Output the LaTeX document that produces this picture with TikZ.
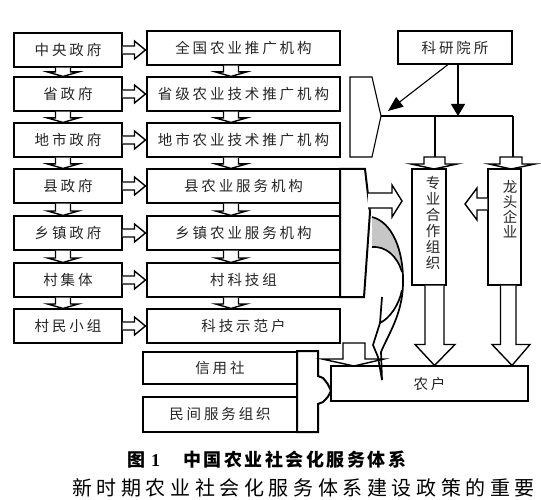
\documentclass[tikz,border=0pt]{standalone}
\usepackage{fontspec}
\setmainfont{Liberation Serif}
\newfontfamily\cjk[LetterSpace=20]{Noto Sans CJK SC}
\newfontfamily\cjkv{Noto Sans CJK SC}
\newfontfamily\capfont[LetterSpace=14]{Noto Sans CJK SC}
\newfontfamily\bodyfont[LetterSpace=23]{Noto Sans CJK SC}
\usetikzlibrary{arrows.meta,calc}

\newcommand\vconn[3]{\draw[conn] let \p1=($(#1.south)+(#3,0)$), \p2=(#2.north) in
 (\x1-7.5pt,\y1) -- (\x1-7.5pt,\y2+4.5pt) -- (\x1-15.5pt,\y2+4.5pt) -- (\x1,\y2) -- (\x1+15.5pt,\y2+4.5pt) -- (\x1+7.5pt,\y2+4.5pt) -- (\x1+7.5pt,\y1);}
\newcommand\hconn[2]{\draw[conn] let \p1=(#1.east), \p2=(#2.west) in
 (\x1,\y1+4pt) -- (\x2-12pt,\y1+4pt) -- (\x2-12pt,\y1+9pt) -- (\x2-1pt,\y1) -- (\x2-12pt,\y1-9pt) -- (\x2-12pt,\y1-4pt) -- (\x1,\y1-4pt);}

\begin{document}
\begin{tikzpicture}[x=1pt,y=-1pt,
  box/.style={draw, line width=1.1pt, inner sep=0pt, text=black!85,
     font=\cjk\fontsize{14.5}{16}\selectfont},
  lbox/.style={box, minimum width=108pt, minimum height=34pt},
  mbox/.style={box, minimum width=193pt, minimum height=34pt},
  vtext/.style={inner sep=0pt, align=center, text=black!85},
  conn/.style={draw, line width=1.4pt, fill=white, line join=miter},
  thickshape/.style={draw, line width=2pt, fill=white, line join=miter},
  thinline/.style={draw, line width=1.1pt},
  curve/.style={draw, line width=1.7pt}]
\useasboundingbox[fill=white] (0,0) rectangle (541,500);

% left column
\node[lbox] (g1) at (68,50)  {中央政府};
\node[lbox] (g2) at (68,94)  {省政府};
\node[lbox] (g3) at (68,140) {地市政府};
\node[lbox] (g4) at (68,186) {县政府};
\node[lbox] (g5) at (68,233) {乡镇政府};
\node[lbox] (g6) at (68,280) {村集体\hspace{32pt}};
\node[lbox] (g7) at (68,326) {村民小组};

% middle column
\node[mbox] (m1) at (243.5,48)  {全国农业推广机构};
\node[mbox] (m2) at (243.5,94)  {省级农业技术推广机构};
\node[mbox] (m3) at (243.5,140) {地市农业技术推广机构};
\node[mbox] (m4) at (243.5,186) {县农业服务机构};
\node[mbox] (m5) at (243.5,233) {乡镇农业服务机构};
\node[mbox] (m6) at (243.5,280) {村科技组};
\node[mbox] (m7) at (243.5,326) {科技示范户};

% vertical connectors
\vconn{g1}{g2}{-5}\vconn{g2}{g3}{-5}\vconn{g3}{g4}{-5}
\vconn{g4}{g5}{-5}\vconn{g5}{g6}{-5}\vconn{g6}{g7}{-5}
\vconn{m1}{m2}{-12.5}\vconn{m2}{m3}{-12.5}\vconn{m3}{m4}{-12.5}
\vconn{m4}{m5}{-12.5}\vconn{m5}{m6}{-12.5}\vconn{m6}{m7}{-12.5}

% horizontal connectors
\hconn{g1}{m1}\hconn{g2}{m2}\hconn{g3}{m3}\hconn{g4}{m4}
\hconn{g5}{m5}\hconn{g6}{m6}\hconn{g7}{m7}

% big bracket box (county to village)
\draw[thickshape] (340,169) -- (365,169) -- (370,212) -- (364,297) -- (340,297) -- cycle;
\coordinate (bbr) at (368,200.5);

% top bracket pentagon
\draw[thinline, fill=white] (350,77) -- (372,77) -- (381,116) -- (372,157) -- (350,157) -- cycle;
\coordinate (pt) at (381,116);

% research institutes
\node[box, minimum width=114pt, minimum height=33pt] (ky) at (455,47.5) {科研院所};
\draw[thinline, -{Triangle[length=15pt,width=12pt]}] ($(ky.south)+(-7,0)$) -- (388,111);
\coordinate (j1) at (435,116);
\coordinate (j2) at (458,116);
\coordinate (j3) at (513,116);
\draw[thinline] (pt) -- (j3);
\draw[thinline, -{Triangle[length=12pt,width=14pt]}] ($(ky.south)+(3,0)$) -- (j2);

% vertical boxes
\node[draw, line width=1.1pt, minimum width=34pt, minimum height=116pt] (zy) at (429,227) {};
\node[draw, line width=1.1pt, minimum width=33pt, minimum height=116pt] (lt) at (504.5,227) {};
\node[vtext, font=\cjkv\fontsize{14.5}{16}\selectfont] (zyt) at (433,223) {专\\业\\合\\作\\组\\织};
\node[vtext, font=\cjkv\fontsize{14.5}{15}\selectfont] (ltt) at (510,209) {龙\\头\\企\\业};

% connectors above vertical boxes
\draw[thinline] (j1) -- (435,157);
\draw[thinline] (j3) -- (513,157);
\draw[conn] (424,157) -- (424,164) -- (411,164) -- (434,169) -- (457,164) -- (445,164) -- (445,157) -- cycle;
\draw[conn] (500,157) -- (500,164) -- (489,164) -- (511,169) -- (535,164) -- (522,164) -- (522,157) -- cycle;

% farmers
\node[box, minimum width=197pt, minimum height=35pt] (nh) at (429.5,383.5) {农户\hspace{22pt}};

% arrows down to farmers
\draw[conn] let \p1=(zy.south), \p2=(nh.north) in
  (\x1-4pt,\y1) -- (\x1-4pt,\y2+21pt) -- (\x1-14pt,\y2+21pt) -- (\x1+5.5pt,\y2) -- (\x1+26pt,\y2+21pt) -- (\x1+15pt,\y2+21pt) -- (\x1+15pt,\y1);
\draw[conn] let \p1=(lt.south), \p2=(nh.north) in
  (\x1-4pt,\y1) -- (\x1-4pt,\y2+21pt) -- (\x1-12.5pt,\y2+21pt) -- (\x1+7.5pt,\y2) -- (\x1+25.5pt,\y2+21pt) -- (\x1+11.5pt,\y2+21pt) -- (\x1+11.5pt,\y1);

% arrow from leading enterprises to cooperatives
\draw[conn] let \p1=(lt.west) in
  (\x1,198) -- (477,198) -- (477,188) -- (465,204) -- (477,220) -- (477,210) -- (\x1,210);
% arrow from big bracket to cooperatives
\draw[conn] (bbr) ++(0,-7.5) -- (392,193) -- (392,185) -- (402,201) -- (392,217) -- (392,208) -- (368,208);

% credit coop and private services
\node[box, minimum width=154pt, minimum height=32pt] (xy) at (220,368) {信用社};
\node[box, minimum width=154pt, minimum height=35pt] (mj) at (220,414.5) {民间服务组织};
\draw[thickshape] (297,351) -- (318,351) -- (318,376) -- (323,378) .. controls (328,384) .. (331,391)
   .. controls (328,397) .. (323,402) -- (318,404) -- (318,432) -- (297,432) -- cycle;

% connector from demonstration households to farmers
\draw[conn] (343,343) -- (343,359) -- (322,359) -- (354,366) -- (384,359) -- (365,359) -- (365,343) -- cycle;

% curved arrow
\fill[gray!45] (372,217) .. controls (392,222) and (401,248) .. (402,272)
   .. controls (397,256) and (386,246) .. (372,247) -- cycle;
\draw[curve] (372,217) .. controls (392,222) and (404,250) .. (403,285)
   .. controls (402,315) and (388,335) .. (381,352) -- (382,380);
\draw[curve] (372,247) .. controls (386,246) and (397,256) .. (402,272);
\draw[curve] (382,297) -- (380,323) .. controls (390,318) and (399,305) .. (402,290);
\draw[curve] (380,323) -- (373,345) -- (378,357) -- (382,380);

% caption
\node[anchor=west, inner sep=0pt, font=\capfont\bfseries\fontsize{18}{20}\selectfont] (cap) at (127,460)
  {图\hspace{6pt}{\rmfamily\bfseries 1}\hspace{23pt}中国农业社会化服务体系};

% body text line below the caption
\node[anchor=north west, inner sep=0pt, font=\bodyfont\fontsize{20}{22}\selectfont] (body) at (72,478)
  {新时期农业社会化服务体系建设政策的重要};
\end{tikzpicture}
\end{document}
